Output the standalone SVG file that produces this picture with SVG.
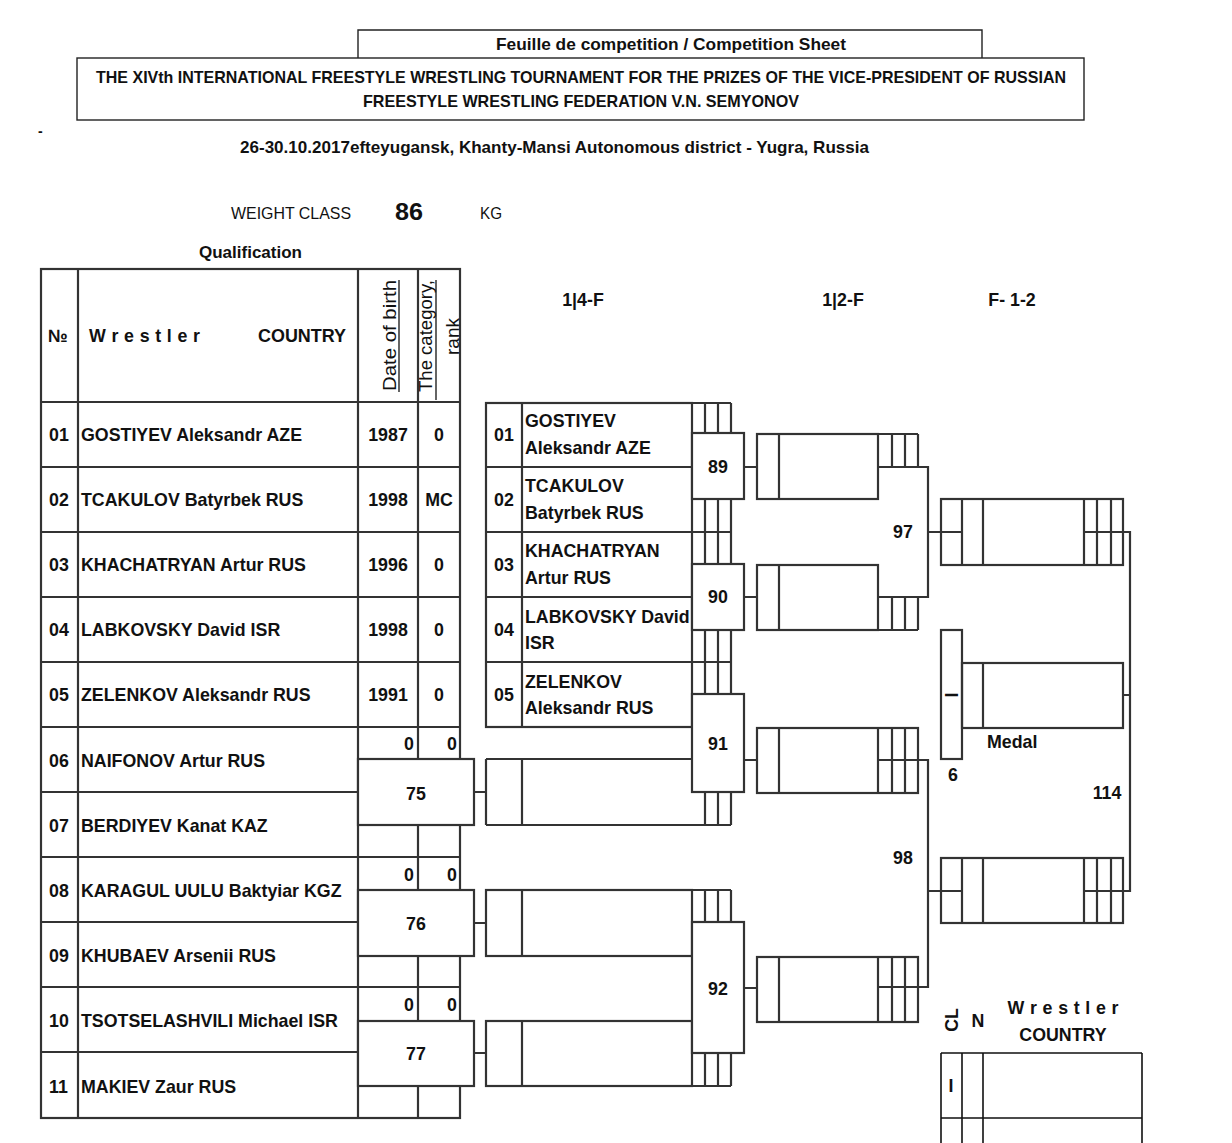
<svg xmlns="http://www.w3.org/2000/svg" width="1232" height="1143" viewBox="0 0 1232 1143">
<style>
.l{stroke:#333;stroke-width:2.2;fill:none}
.b{stroke:#333;stroke-width:2.2;fill:#fff}
.h{stroke:#222;stroke-width:1.4;fill:none}
.k{stroke:#111;stroke-width:1.6;fill:none}
text{font-family:"Liberation Sans",Arial,sans-serif;font-weight:bold;font-size:17.8px;fill:#111}
.n{font-weight:normal}
.c{text-anchor:middle}
</style>
<rect width="1232" height="1143" fill="#fff"/>

<g id="header">
  <path class="h" d="M358,58 V30 H982 V58"/>
  <rect class="h" x="77" y="58" width="1007" height="62"/>
  <text x="496" y="50" style="font-size:16.5px" textLength="350" lengthAdjust="spacingAndGlyphs">Feuille de competition / Competition Sheet</text>
  <text x="96" y="83" style="font-size:17px" textLength="970" lengthAdjust="spacingAndGlyphs">THE XIVth INTERNATIONAL FREESTYLE WRESTLING TOURNAMENT FOR THE PRIZES OF THE VICE-PRESIDENT OF RUSSIAN</text>
  <text x="363" y="107" style="font-size:17px" textLength="436" lengthAdjust="spacingAndGlyphs">FREESTYLE WRESTLING FEDERATION V.N. SEMYONOV</text>
  <text x="38" y="136" style="font-size:14px">-</text>
  <text x="240" y="153" style="font-size:17px" textLength="629" lengthAdjust="spacingAndGlyphs">26-30.10.2017efteyugansk, Khanty-Mansi Autonomous district - Yugra, Russia</text>
  <text class="n" x="231" y="219" style="font-size:17px" textLength="120" lengthAdjust="spacingAndGlyphs">WEIGHT CLASS</text>
  <text x="395" y="220" style="font-size:24px" textLength="28" lengthAdjust="spacingAndGlyphs">86</text>
  <text class="n" x="480" y="219" style="font-size:17px" textLength="22" lengthAdjust="spacingAndGlyphs">KG</text>
  <text x="199" y="258" style="font-size:17px" textLength="103" lengthAdjust="spacingAndGlyphs">Qualification</text>
  <text class="c" x="583" y="306">1|4-F</text>
  <text class="c" x="843" y="306">1|2-F</text>
  <text class="c" x="1012" y="306">F- 1-2</text>
</g>

<g id="qualification-table">
  <rect class="l" x="41" y="269" width="419" height="849"/>
  <path class="l" d="M78,269 V1118 M358,269 V1118 M418,269 V1118
    M41,402 H460 M41,467 H460 M41,532 H460 M41,597 H460 M41,662 H460 M41,727 H460
    M41,792 H358 M41,857 H460 M41,922 H358 M41,987 H460 M41,1052 H358"/>
  <text x="48" y="342">№</text>
  <text x="89" y="342" textLength="111" lengthAdjust="spacing">W r e s t l e r</text>
  <text x="258" y="342" textLength="88" lengthAdjust="spacingAndGlyphs">COUNTRY</text>
  <text class="n" transform="translate(396,391) rotate(-90)" style="font-size:19px" textLength="111" lengthAdjust="spacingAndGlyphs">Date of birth</text>
  <line x1="399" y1="280" x2="399" y2="392" stroke="#111" stroke-width="1.3"/>
  <text class="n" transform="translate(432,392) rotate(-90)" style="font-size:19px" textLength="112" lengthAdjust="spacingAndGlyphs">The category,</text>
  <line x1="436" y1="280" x2="436" y2="400" stroke="#111" stroke-width="1.3"/>
  <text class="n" transform="translate(459,355) rotate(-90)" style="font-size:19px" textLength="37" lengthAdjust="spacingAndGlyphs">rank</text>

  <text x="49" y="441">01</text><text x="81" y="441">GOSTIYEV Aleksandr AZE</text><text class="c" x="388" y="441">1987</text><text class="c" x="439" y="441">0</text>
  <text x="49" y="506">02</text><text x="81" y="506">TCAKULOV Batyrbek RUS</text><text class="c" x="388" y="506">1998</text><text class="c" x="439" y="506">MC</text>
  <text x="49" y="571">03</text><text x="81" y="571">KHACHATRYAN Artur RUS</text><text class="c" x="388" y="571">1996</text><text class="c" x="439" y="571">0</text>
  <text x="49" y="636">04</text><text x="81" y="636">LABKOVSKY David ISR</text><text class="c" x="388" y="636">1998</text><text class="c" x="439" y="636">0</text>
  <text x="49" y="701">05</text><text x="81" y="701">ZELENKOV Aleksandr RUS</text><text class="c" x="388" y="701">1991</text><text class="c" x="439" y="701">0</text>
  <text x="49" y="767">06</text><text x="81" y="767">NAIFONOV Artur RUS</text>
  <text x="49" y="832">07</text><text x="81" y="832">BERDIYEV Kanat KAZ</text>
  <text x="49" y="897">08</text><text x="81" y="897">KARAGUL UULU Baktyiar KGZ</text>
  <text x="49" y="962">09</text><text x="81" y="962">KHUBAEV Arsenii RUS</text>
  <text x="49" y="1027">10</text><text x="81" y="1027">TSOTSELASHVILI Michael ISR</text>
  <text x="49" y="1093">11</text><text x="81" y="1093">MAKIEV Zaur RUS</text>

  <text class="c" x="409" y="750">0</text><text class="c" x="452" y="750">0</text>
  <text class="c" x="409" y="881">0</text><text class="c" x="452" y="881">0</text>
  <text class="c" x="409" y="1011">0</text><text class="c" x="452" y="1011">0</text>
</g>

<g id="connectors">
  <path class="l" d="M474,792 H486 M474,923 H486 M474,1053 H486
    M744,467 H757 M744,597 H757 M744,760 H757 M744,988 H757
    M878,467 H928 V597 H878 M878,760 H928 V987 H878
    M928,532 H941 M928,891 H941
    M1084,532 H1130 V891 H1084 M1123,695 H1130"/>
</g>

<g id="pre-75">
  <rect class="b" x="358" y="759" width="116" height="66"/>
  <text class="c" x="416" y="800">75</text>
</g>
<g id="pre-76">
  <rect class="b" x="358" y="890" width="116" height="66"/>
  <text class="c" x="416" y="930">76</text>
</g>
<g id="pre-77">
  <rect class="b" x="358" y="1021" width="116" height="65"/>
  <text class="c" x="416" y="1060">77</text>
</g>

<g id="quarter-table">
  <rect class="l" x="486" y="403" width="206" height="324"/>
  <path class="l" d="M522,403 V727 M486,467 H731 M486,532 H731 M486,597 H692 M486,662 H731"/>
  <path class="l" d="M692,403 H731 M705,403 V433 M718,403 V433 M731,403 V433
    M705,499 V565 M718,499 V565 M731,499 V565
    M705,630 V694 M718,630 V694 M731,630 V694
    M705,792 V825 M718,792 V825 M731,792 V825"/>
  <text class="c" x="504" y="441">01</text><text x="525" y="427">GOSTIYEV</text><text x="525" y="454">Aleksandr AZE</text>
  <text class="c" x="504" y="506">02</text><text x="525" y="492">TCAKULOV</text><text x="525" y="519">Batyrbek RUS</text>
  <text class="c" x="504" y="571">03</text><text x="525" y="557">KHACHATRYAN</text><text x="525" y="584">Artur RUS</text>
  <text class="c" x="504" y="636">04</text><text x="525" y="623">LABKOVSKY David</text><text x="525" y="649">ISR</text>
  <text class="c" x="504" y="701">05</text><text x="525" y="688">ZELENKOV</text><text x="525" y="714">Aleksandr RUS</text>
</g>
<g id="quarter-75w">
  <path class="l" d="M486,759 H692 M486,825 H731 M486,759 V825 M522,759 V825"/>
</g>
<g id="quarter-76w">
  <rect class="l" x="486" y="890" width="206" height="66"/>
  <path class="l" d="M522,890 V956 M692,890 H731 M705,890 V922 M718,890 V922 M731,890 V922"/>
</g>
<g id="quarter-77w">
  <rect class="l" x="486" y="1021" width="206" height="65"/>
  <path class="l" d="M522,1021 V1086 M692,1086 H731 M705,1053 V1086 M718,1053 V1086 M731,1053 V1086"/>
</g>

<g id="bout-89"><rect class="b" x="692" y="433" width="52" height="66"/><text class="c" x="718" y="473">89</text></g>
<g id="bout-90"><rect class="b" x="692" y="564" width="52" height="66"/><text class="c" x="718" y="603">90</text></g>
<g id="bout-91"><rect class="b" x="692" y="694" width="52" height="98"/><text class="c" x="718" y="750">91</text></g>
<g id="bout-92"><rect class="b" x="692" y="922" width="52" height="131"/><text class="c" x="718" y="995">92</text></g>

<g id="semi-a">
  <rect class="l" x="757" y="434" width="121" height="65"/>
  <path class="l" d="M779,434 V499 M878,434 H918 M892,434 V467 M905,434 V467 M918,434 V467"/>
</g>
<g id="semi-b">
  <rect class="l" x="757" y="565" width="121" height="65"/>
  <path class="l" d="M779,565 V630 M878,630 H918 M892,597 V630 M905,597 V630 M918,597 V630"/>
</g>
<g id="semi-c">
  <rect class="l" x="757" y="728" width="161" height="65"/>
  <path class="l" d="M779,728 V793 M878,728 V793 M892,728 V793 M905,728 V793"/>
</g>
<g id="semi-d">
  <rect class="l" x="757" y="957" width="161" height="65"/>
  <path class="l" d="M779,957 V1022 M878,957 V1022 M892,957 V1022 M905,957 V1022"/>
</g>
<g id="bout-97"><text class="c" x="903" y="538">97</text></g>
<g id="bout-98"><text class="c" x="903" y="864">98</text></g>

<g id="final-a">
  <rect class="l" x="941" y="499" width="182" height="66"/>
  <path class="l" d="M941,532 H962 M962,499 V565 M983,499 V565 M1084,499 V565 M1097,499 V565"/>
  <path class="l" stroke-width="1.5" d="M1111,499 V565"/>
</g>
<g id="final-b">
  <rect class="l" x="941" y="858" width="182" height="65"/>
  <path class="l" d="M941,891 H962 M962,858 V923 M983,858 V923 M1084,858 V923 M1097,858 V923"/>
  <path class="l" stroke-width="1.5" d="M1111,858 V923"/>
</g>
<g id="medal">
  <rect class="l" x="941" y="630" width="21" height="129"/>
  <text class="c" transform="translate(952,695) rotate(-90)" dy="6">I</text>
  <rect class="l" x="962" y="663" width="161" height="65"/>
  <path class="l" d="M983,663 V728"/>
  <text x="987" y="748">Medal</text>
  <text class="c" x="953" y="781">6</text>
  <text class="c" x="1107" y="799">114</text>
</g>

<g id="legend">
  <text class="c" transform="translate(952,1020) rotate(-90)" dy="6">CL</text>
  <text class="c" x="978" y="1027">N</text>
  <text class="c" x="1063" y="1014" textLength="111" lengthAdjust="spacing">W r e s t l e r</text>
  <text class="c" x="1063" y="1041">COUNTRY</text>
  <path class="k" d="M941,1053 H1142 M941,1118 H1142 M941,1053 V1143 M962,1053 V1143 M983,1053 V1143 M1142,1053 V1143"/>
  <text class="c" x="951" y="1092">I</text>
</g>
</svg>
